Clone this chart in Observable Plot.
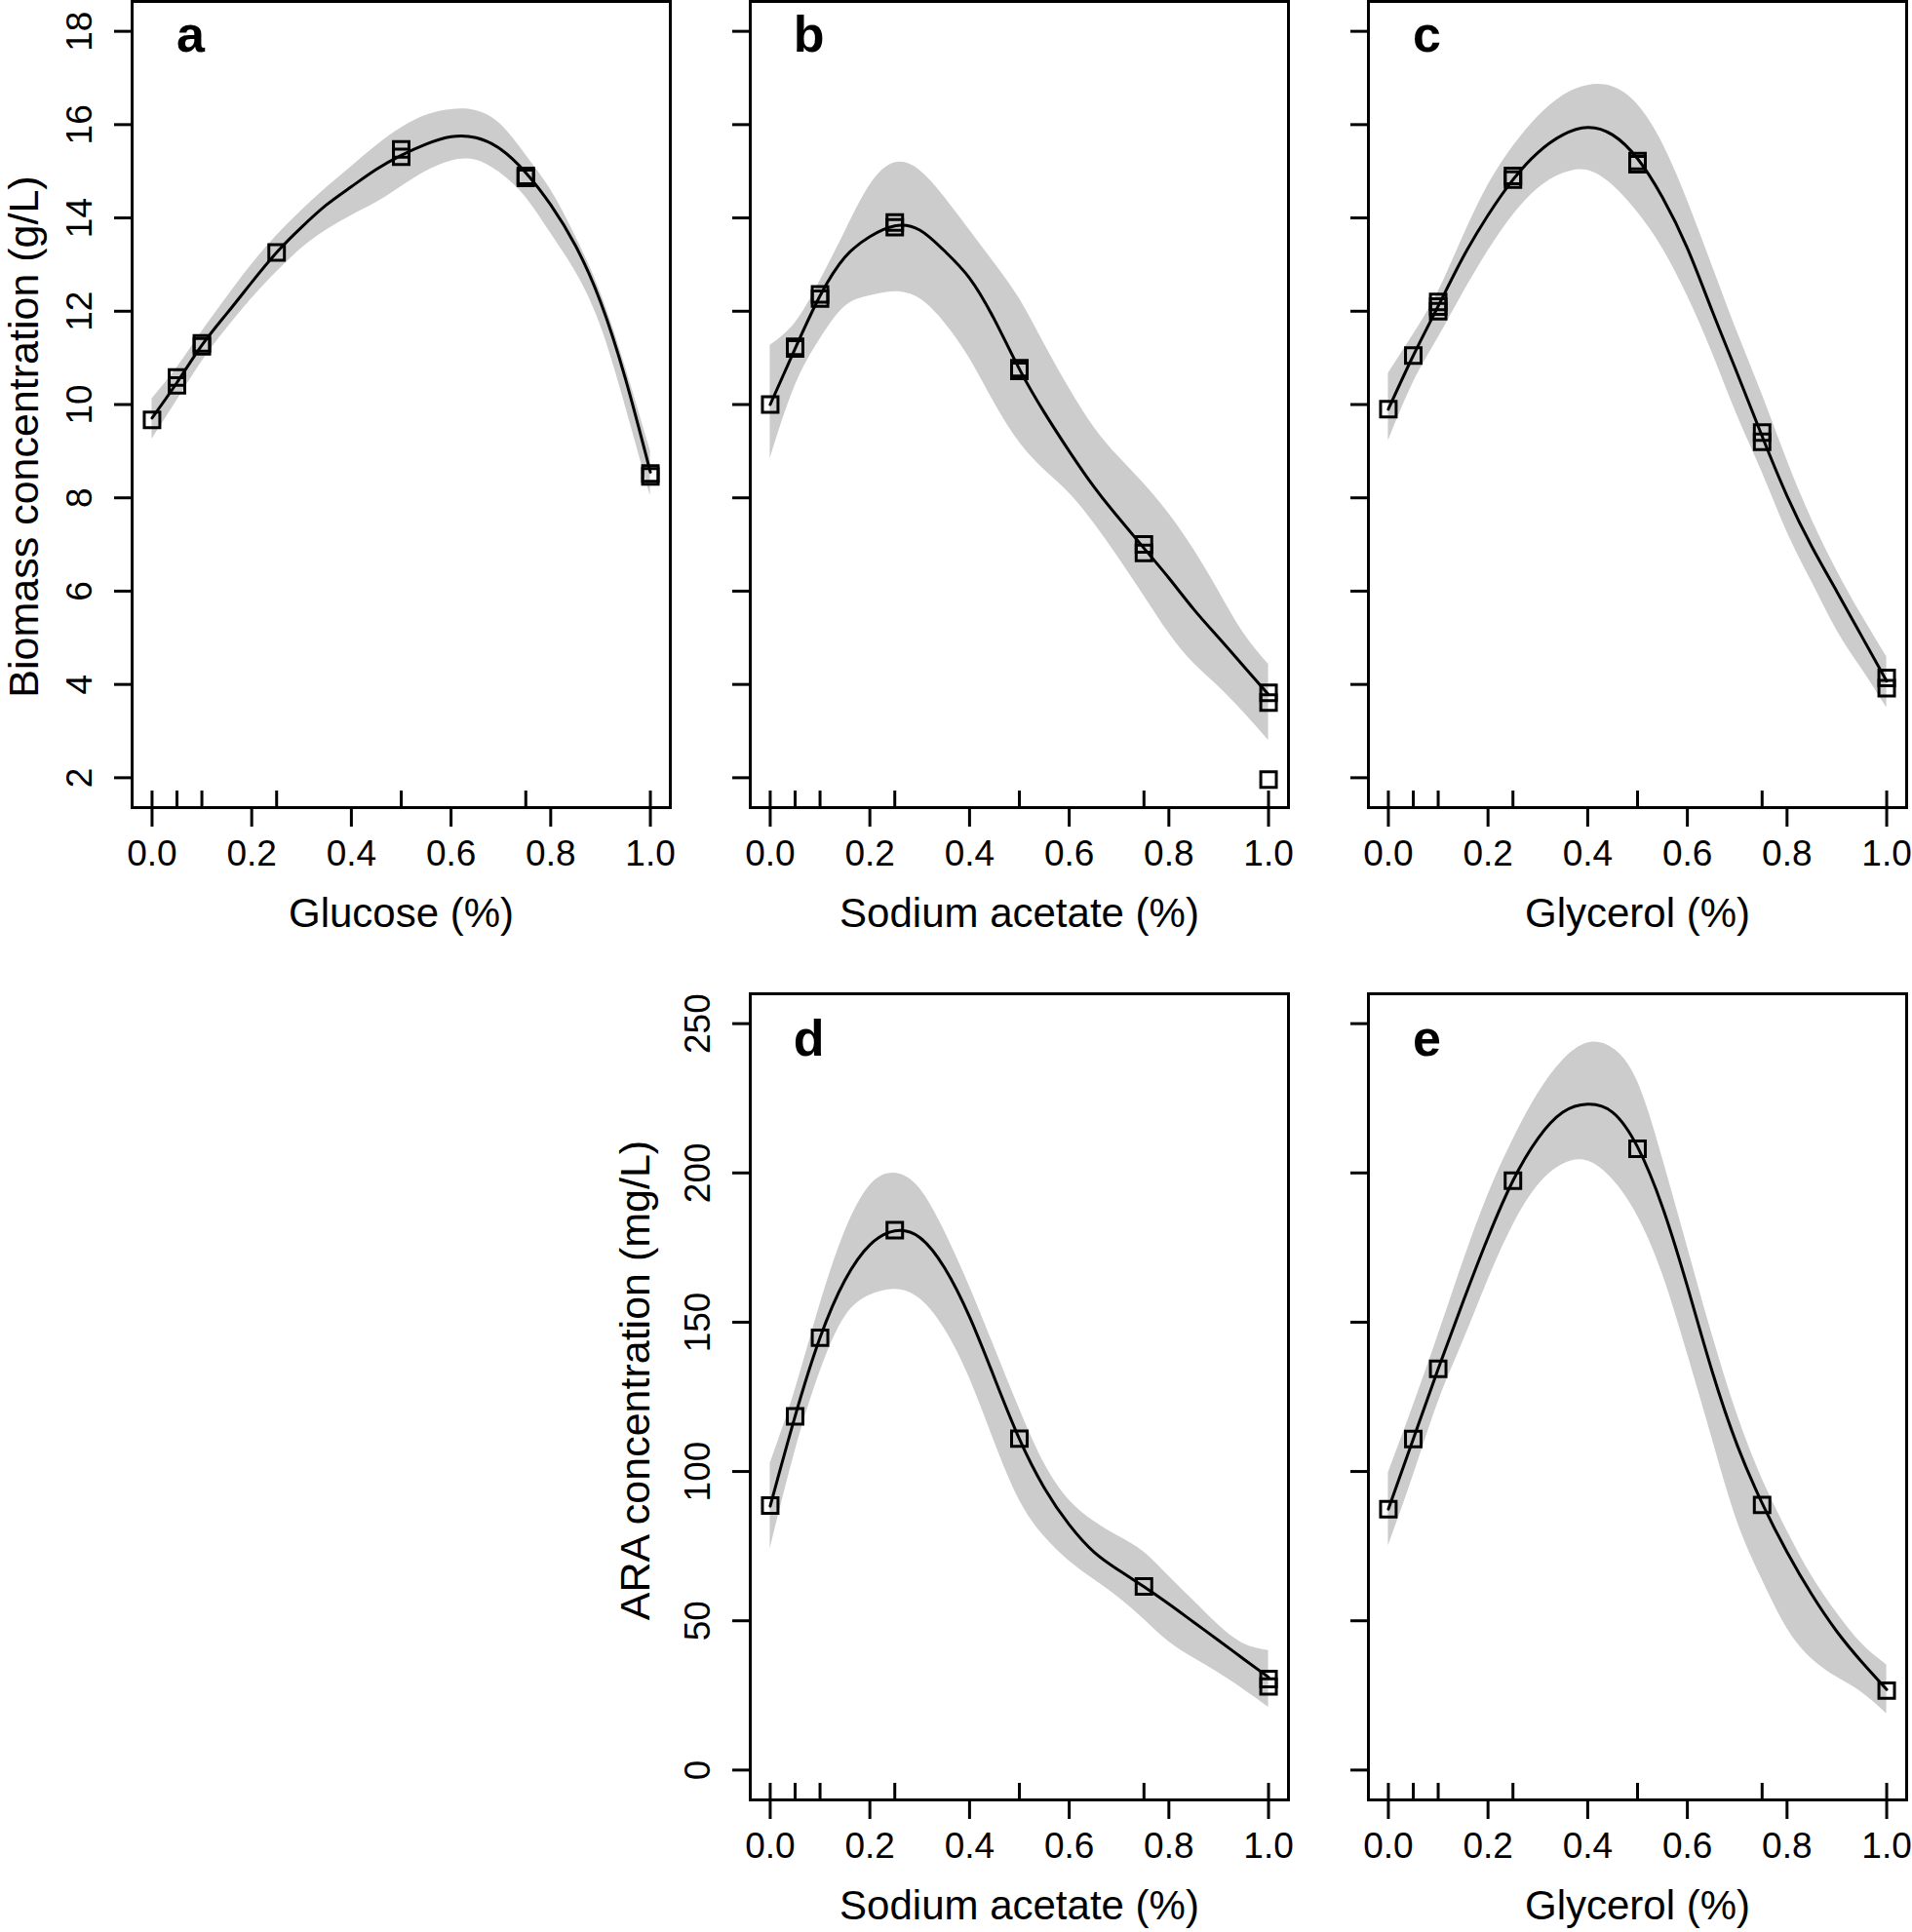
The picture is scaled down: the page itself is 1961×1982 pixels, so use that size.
<!DOCTYPE html>
<html>
<head>
<meta charset="utf-8">
<script src="https://cdn.jsdelivr.net/npm/d3@7"></script>
<script src="https://cdn.jsdelivr.net/npm/@observablehq/plot@0.6"></script>
<style>
  html, body { margin: 0; padding: 0; background: #ffffff; }
  #wrap { position: relative; width: 1961px; height: 1982px; background: #ffffff; overflow: hidden; }
  #wrap > svg { position: absolute; overflow: visible; }
</style>
</head>
<body>
<div id="wrap"></div>
<script>
// ---------- axis ticks ----------
const xTicks = [0, 0.2, 0.4, 0.6, 0.8, 1.0];
const biomassTicks = [2, 4, 6, 8, 10, 12, 14, 16, 18];
const araTicks = [0, 50, 100, 150, 200, 250];

// ---------- tested concentrations (rug) ----------
const concX = [0, 0.05, 0.1, 0.25, 0.5, 0.75, 1.0];

// ---------- fitted-curve x grid ----------
const gridX = [0, 0.05, 0.1, 0.15, 0.2, 0.25, 0.3, 0.35, 0.4, 0.45, 0.5,
               0.55, 0.6, 0.65, 0.7, 0.75, 0.8, 0.85, 0.9, 0.95, 1.0];

// ---------- a: Glucose -> biomass ----------
const glucoseX = [0, 0.05, 0.05, 0.1, 0.1, 0.25, 0.5, 0.5, 0.75, 0.75, 1.0, 1.0];
const glucoseBiomass = [9.67, 10.58, 10.41, 11.31, 11.25, 13.26, 15.47, 15.31, 14.9, 14.86, 8.52, 8.46];
const glucoseFit = [9.71, 10.47, 11.27, 11.95, 12.62, 13.26, 13.80, 14.28, 14.67, 15.04, 15.34,
                    15.58, 15.74, 15.72, 15.47, 14.97, 14.28, 13.40, 12.20, 10.55, 8.55];
const glucoseUpper = [10.12, 10.79, 11.56, 12.30, 13.00, 13.62, 14.16, 14.65, 15.10, 15.55, 15.93,
                      16.20, 16.32, 16.30, 16.00, 15.35, 14.60, 13.60, 12.40, 10.80, 9.00];
const glucoseLower = [9.26, 10.09, 10.92, 11.63, 12.27, 12.84, 13.35, 13.74, 14.05, 14.33, 14.67,
                      15.00, 15.22, 15.24, 14.95, 14.44, 13.67, 12.84, 11.69, 9.96, 8.04];

// ---------- b: Sodium acetate -> biomass ----------
const acetateX = [0, 0.05, 0.05, 0.1, 0.1, 0.25, 0.25, 0.5, 0.5, 0.75, 0.75, 1.0, 1.0, 1.0];
const acetateBiomass = [10.0, 11.24, 11.2, 12.36, 12.27, 13.9, 13.8, 10.78, 10.72, 7.0, 6.82, 3.82, 3.61, 1.96];
const acetateBioFit = [10.0, 11.2, 12.33, 13.16, 13.6, 13.83, 13.74, 13.29, 12.71, 11.82, 10.76,
                       9.83, 9.0, 8.23, 7.56, 6.92, 6.28, 5.61, 5.0, 4.39, 3.78];
const acetateBioUpper = [11.27, 11.75, 12.65, 13.7, 14.7, 15.18, 15.02, 14.44, 13.74, 13.03, 12.27,
                         11.3, 10.35, 9.51, 8.87, 8.3, 7.66, 6.89, 6.0, 5.1, 4.43];
const acetateBioLower = [8.84, 10.4, 11.4, 12.1, 12.33, 12.42, 12.27, 11.75, 10.99, 10.03, 9.19,
                         8.6, 8.1, 7.45, 6.7, 5.9, 5.1, 4.45, 3.95, 3.4, 2.8];

// ---------- c: Glycerol -> biomass ----------
const glycerolX = [0, 0.05, 0.1, 0.1, 0.1, 0.25, 0.25, 0.5, 0.5, 0.75, 0.75, 1.0, 1.0];
const glycerolBiomass = [9.9, 11.05, 12.2, 12.1, 12.0, 14.9, 14.82, 15.22, 15.15, 9.4, 9.2, 4.14, 3.92];
const glycerolBioFit = [9.9, 11.05, 12.11, 13.16, 14.06, 14.82, 15.4, 15.78, 15.94, 15.78, 15.27,
                        14.44, 13.35, 12.0, 10.67, 9.32, 8.04, 6.95, 5.99, 5.03, 4.07];
const glycerolBioUpper = [10.67, 11.5, 12.42, 13.6, 14.7, 15.53, 16.17, 16.62, 16.84, 16.81, 16.43,
                          15.6, 14.38, 12.97, 11.56, 10.22, 8.81, 7.53, 6.44, 5.48, 4.59];
const glycerolBioLower = [9.22, 10.47, 11.43, 12.39, 13.29, 14.06, 14.63, 14.95, 15.02, 14.7, 14.12,
                          13.35, 12.33, 11.11, 9.77, 8.55, 7.27, 6.19, 5.16, 4.33, 3.5];

// ---------- d: Sodium acetate -> ARA ----------
const acetateAraX = [0, 0.05, 0.1, 0.25, 0.5, 0.75, 1.0, 1.0];
const acetateAra = [88.6, 118.5, 144.8, 180.8, 111.0, 61.5, 30.5, 28.0];
const acetateAraFit = [88.4, 118.5, 144.8, 164.1, 175.9, 180.6, 178.4, 168.2, 151.8, 131.3, 110.9,
                       94.5, 82.2, 73.0, 66.9, 61.4, 55.6, 49.5, 43.4, 37.2, 31.1];
const acetateAraUpper = [102.7, 127.3, 155.9, 180.4, 195.8, 199.9, 194.8, 180.4, 162.0, 141.6, 121.1,
                         102.7, 90.4, 83.3, 78.2, 73.0, 64.9, 56.7, 48.5, 42.3, 40.0];
const acetateAraLower = [74.1, 106.8, 133.4, 151.8, 159.0, 161.0, 157.9, 147.7, 131.3, 109.9, 90.4,
                         78.2, 70.0, 63.8, 57.7, 50.5, 43.0, 37.5, 32.5, 27.0, 21.0];

// ---------- e: Glycerol -> ARA ----------
const glycerolAraX = [0, 0.05, 0.1, 0.25, 0.5, 0.75, 1.0];
const glycerolAra = [87.4, 110.9, 134.4, 197.4, 208.1, 88.8, 26.6];
const glycerolAraFit = [87.4, 110.9, 134.4, 156.9, 178.4, 197.4, 211.5, 220.3, 223.0, 220.3, 208.7,
                        188.6, 162.0, 133.4, 108.8, 89.4, 73.0, 58.7, 46.4, 36.2, 27.0];
const glycerolAraUpper = [99.6, 122.1, 145.7, 170.2, 192.7, 211.1, 226.5, 237.7, 243.5, 241.8, 230.6,
                          205.0, 175.3, 145.7, 119.1, 97.6, 80.2, 64.9, 52.6, 42.3, 35.2];
const glycerolAraLower = [75.1, 98.6, 123.2, 143.6, 164.1, 182.5, 195.8, 202.9, 204.0, 197.8, 185.6,
                          166.1, 139.5, 110.9, 83.3, 63.8, 47.5, 37.2, 31.1, 26.0, 18.8];

// ---------- labels ----------
const xLabels = ["Glucose (%)", "Sodium acetate (%)", "Glycerol (%)", "Sodium acetate (%)", "Glycerol (%)"];
const yLabels = ["Biomass concentration (g/L)", "ARA concentration (mg/L)"];
const letters = ["a", "b", "c", "d", "e"];

// ---------- drawing ----------
const FONT = "'Liberation Sans', Arial, Helvetica, sans-serif";
const CURVE = "natural";
const wrap = document.getElementById("wrap");

const rows = {
  top:    {top: 0,    height: 980, mt: 1,  mb: 152, letterDy: 51},
  bottom: {top: 1000, height: 982, mt: 19, mb: 136, letterDy: 63}
};
const cols = [
  {left: 0,    width: 700, ml: 135, mr: 13},
  {left: 634,  width: 700, ml: 135, mr: 13},
  {left: 1268, width: 693, ml: 135, mr: 6}
];

function panel(cfg) {
  const row = rows[cfg.row], col = cols[cfg.col];
  const frameH = row.height - row.mt - row.mb;
  const pts = cfg.px.map((x, i) => ({x, y: cfg.py[i]}));
  const band = gridX.map((x, i) => ({x, fit: cfg.fit[i], lo: cfg.lo[i], hi: cfg.hi[i]}));
  const marks = [
    Plot.areaY(band, {x: "x", y1: "lo", y2: "hi", fill: "#cccccc", curve: CURVE}),
    Plot.lineY(band, {x: "x", y: "fit", stroke: "black", strokeWidth: 3, curve: CURVE}),
    Plot.ruleX(concX, {x: d => d, stroke: "black", strokeWidth: 3, insetTop: frameH - 17}),
    Plot.dot(pts, {x: "x", y: "y", symbol: "square", r: 9, stroke: "black", strokeWidth: 3, fill: "none"}),
    Plot.frame({stroke: "black", strokeWidth: 3}),
    Plot.axisX({ticks: xTicks, tickFormat: d3.format(".1f"), tickSize: 20, tickPadding: 13,
                fontSize: 37, strokeWidth: 3, label: null}),
    Plot.axisY({ticks: cfg.yTicks, tickSize: 18, tickPadding: 24, tickRotate: -90,
                tickFormat: cfg.yLabel ? (d => String(d)) : (() => ""),
                fontSize: 37, strokeWidth: 3, label: null}),
    Plot.text([cfg.xLabel], {text: d => d, frameAnchor: "bottom", lineAnchor: "bottom", dy: 122, fontSize: 42}),
    Plot.text([cfg.letter], {text: d => d, frameAnchor: "top-left", lineAnchor: "bottom", textAnchor: "middle",
                             dx: 60, dy: row.letterDy, fontSize: 52, fontWeight: "bold"})
  ];
  if (cfg.yLabel) {
    marks.push(Plot.text([cfg.yLabel], {text: d => d, frameAnchor: "left", rotate: -90, lineAnchor: "middle",
                                        textAnchor: "middle", dx: cfg.yLabelDx, dy: cfg.yLabelDy, fontSize: 43}));
  }
  const svg = Plot.plot({
    width: col.width, height: row.height,
    marginTop: row.mt, marginBottom: row.mb, marginLeft: col.ml, marginRight: col.mr,
    x: {domain: [-0.04, 1.04]},
    y: {domain: cfg.yDomain},
    style: {fontFamily: FONT, color: "black", background: "transparent", overflow: "visible"},
    marks
  });
  svg.style.left = col.left + "px";
  svg.style.top = row.top + "px";
  wrap.appendChild(svg);
}

const bioDomain = [1.36, 18.64];
const araDomain = [-10, 260];

panel({row: "top", col: 0, px: glucoseX, py: glucoseBiomass, fit: glucoseFit, lo: glucoseLower, hi: glucoseUpper,
       yDomain: bioDomain, yTicks: biomassTicks, xLabel: xLabels[0], letter: letters[0],
       yLabel: yLabels[0], yLabelDx: -110, yLabelDy: 33});
panel({row: "top", col: 1, px: acetateX, py: acetateBiomass, fit: acetateBioFit, lo: acetateBioLower, hi: acetateBioUpper,
       yDomain: bioDomain, yTicks: biomassTicks, xLabel: xLabels[1], letter: letters[1]});
panel({row: "top", col: 2, px: glycerolX, py: glycerolBiomass, fit: glycerolBioFit, lo: glycerolBioLower, hi: glycerolBioUpper,
       yDomain: bioDomain, yTicks: biomassTicks, xLabel: xLabels[2], letter: letters[2]});
panel({row: "bottom", col: 1, px: acetateAraX, py: acetateAra, fit: acetateAraFit, lo: acetateAraLower, hi: acetateAraUpper,
       yDomain: araDomain, yTicks: araTicks, xLabel: xLabels[3], letter: letters[3],
       yLabel: yLabels[1], yLabelDx: -117, yLabelDy: -17});
panel({row: "bottom", col: 2, px: glycerolAraX, py: glycerolAra, fit: glycerolAraFit, lo: glycerolAraLower, hi: glycerolAraUpper,
       yDomain: araDomain, yTicks: araTicks, xLabel: xLabels[4], letter: letters[4]});
</script>
</body>
</html>
